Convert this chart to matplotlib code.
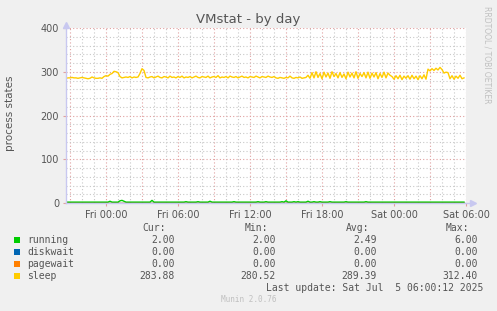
import numpy as np
import matplotlib.pyplot as plt

# Data (10 minute steps, starting Thu 20:40, hours relative to Fri 00:00)
sleep = [
    285, 286, 286, 287, 286, 286, 285, 286, 287, 286,
    285, 284, 285, 288, 286, 285, 285, 286, 285, 289,
    291, 290, 294, 296, 301, 300, 298, 289, 286, 287,
    288, 287, 289, 286, 288, 287, 288, 296, 307, 303,
    287, 286, 288, 289, 286, 288, 290, 287, 286, 289,
    288, 286, 290, 287, 288, 286, 289, 287, 290, 286,
    288, 287, 289, 286, 288, 290, 287, 286, 289, 288,
    287, 290, 286, 288, 289, 287, 291, 286, 288, 287,
    289, 286, 290, 288, 287, 289, 286, 288, 290, 287,
    288, 286, 289, 288, 287, 290, 288, 286, 289, 288,
    287, 290, 288, 287, 289, 286, 285, 287, 286, 285,
    287, 286, 290, 286, 285, 287, 286, 288, 285, 286,
    287, 292, 285, 298, 286, 300, 287, 296, 284, 299,
    288, 297, 285, 300, 289, 296, 286, 298, 287, 295,
    284, 299, 288, 297, 286, 300, 285, 296, 289, 298,
    286, 299, 285, 297, 288, 298, 284, 296, 287, 299,
    286, 297, 292, 289, 283, 291, 284, 292, 282, 290,
    285, 291, 283, 292, 284, 290, 282, 291, 284, 293,
    283, 306, 302, 307, 303, 308, 304, 310, 305, 297,
    299, 298, 284, 291, 283, 290, 285, 292, 284, 286,
]
running = [2] * 200
for idx, val in {22: 4, 27: 5, 28: 6, 29: 4, 43: 6, 60: 3, 66: 3, 72: 4,
                 84: 3, 96: 3, 100: 3, 108: 3, 110: 5, 114: 3, 116: 3,
                 121: 4, 124: 3, 127: 3, 132: 3, 140: 3, 150: 3}.items():
    running[idx] = val
diskwait = [0] * 200
pagewait = [0] * 200

names = ['running', 'diskwait', 'pagewait', 'sleep']
colors = ['#00cc00', '#0066b3', '#ff8000', '#ffcc00']
cur = ['2.00', '0.00', '0.00', '283.88']
mins = ['2.00', '0.00', '0.00', '280.52']
avgs = ['2.49', '0.00', '0.00', '289.39']
maxs = ['6.00', '0.00', '0.00', '312.40']
xticks = [0, 6, 12, 18, 24, 30]
xticklabels = ['Fri 00:00', 'Fri 06:00', 'Fri 12:00', 'Fri 18:00', 'Sat 00:00', 'Sat 06:00']

t = -10 / 3 + np.arange(len(sleep)) / 6.0

W, H = 497, 311
txt = '#555555'
fig = plt.figure(figsize=(W / 100, H / 100), dpi=100, facecolor='#f0f0f0')
ax = fig.add_axes([66 / W, (H - 203) / H, 400 / W, 175 / H])
ax.set_facecolor('white')

ax.set_xlim(-10 / 3, 30)
ax.set_ylim(0, 400)

# grid
for h in np.arange(-3, 31, 1):
    c = '#e0a0a0' if h % 3 == 0 else '#c8c8c8'
    ax.axvline(h, color=c, lw=0.8, ls=(0, (1, 2)), zorder=1)
for v in range(20, 401, 20):
    c = '#e0a0a0' if v % 100 == 0 else '#c8c8c8'
    ax.axhline(v, color=c, lw=0.8, ls=(0, (1, 2)), zorder=1)

for s, c in zip([running, diskwait, pagewait, sleep], colors):
    ax.plot(t, s, color=c, lw=1.0, zorder=3)

for sp in ax.spines.values():
    sp.set_visible(False)
ax.plot([-10 / 3, -10 / 3], [0, 404], color='#c8c8f0', lw=1, zorder=4, clip_on=False)
ax.plot([-10 / 3, 30.3], [0, 0], color='#c8c8f0', lw=1, zorder=2, clip_on=False)
ax.plot([-10 / 3], [408], marker='^', ms=4, color='#c8c8f0', clip_on=False)
ax.plot([30.6], [0], marker='>', ms=4, color='#c8c8f0', clip_on=False)

ax.set_xticks(xticks)
ax.set_xticklabels(xticklabels)
ax.set_yticks([0, 100, 200, 300, 400])
ax.tick_params(axis='both', colors='#e0a0a0', labelcolor=txt, labelsize=7, length=2, width=0.8)
ax.tick_params(axis='x', pad=3)
ax.tick_params(axis='y', pad=3)

def px(x, y):
    return x / W, 1 - y / H

fig.text(*px(248, 19), 'VMstat - by day', ha='center', va='center', fontsize=9.5, color=txt)
fig.text(*px(10, 113), 'process states', ha='center', va='center', rotation=90, fontsize=7.5, color=txt)
fig.text(*px(487, 55), 'RRDTOOL / TOBI OETIKER', ha='center', va='center', rotation=270,
         fontsize=5.5, color='#c0c0c0')

mono = 'DejaVu Sans Mono'
fs = 7
fig.text(*px(166, 228), 'Cur:', ha='right', va='center', family=mono, fontsize=fs, color=txt)
fig.text(*px(268, 228), 'Min:', ha='right', va='center', family=mono, fontsize=fs, color=txt)
fig.text(*px(369, 228), 'Avg:', ha='right', va='center', family=mono, fontsize=fs, color=txt)
fig.text(*px(469, 228), 'Max:', ha='right', va='center', family=mono, fontsize=fs, color=txt)
for k, name in enumerate(names):
    y = 240 + k * 11.9
    fig.patches.append(plt.Rectangle(px(14, y + 3), 6 / W, 6 / H, transform=fig.transFigure,
                                     facecolor=colors[k], edgecolor='none'))
    fig.text(*px(27, y), name, ha='left', va='center', family=mono, fontsize=fs, color=txt)
    fig.text(*px(175, y), cur[k], ha='right', va='center', family=mono, fontsize=fs, color=txt)
    fig.text(*px(276, y), mins[k], ha='right', va='center', family=mono, fontsize=fs, color=txt)
    fig.text(*px(377, y), avgs[k], ha='right', va='center', family=mono, fontsize=fs, color=txt)
    fig.text(*px(478, y), maxs[k], ha='right', va='center', family=mono, fontsize=fs, color=txt)
fig.text(*px(483, 288), 'Last update: Sat Jul  5 06:00:12 2025', ha='right', va='center',
         family=mono, fontsize=fs, color=txt)
fig.text(*px(249, 300), 'Munin 2.0.76', ha='center', va='center', family=mono, fontsize=5.5,
         color='#c0c0c0')

fig.savefig('out.png', dpi=100, facecolor=fig.get_facecolor())
